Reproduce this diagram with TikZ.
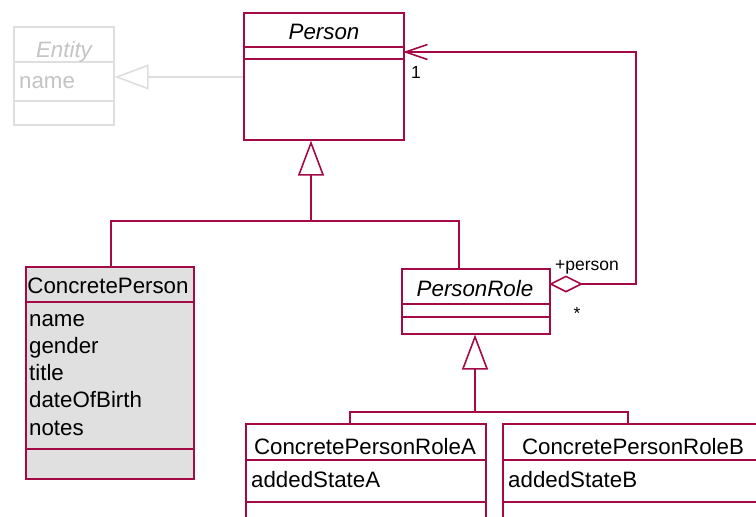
\documentclass[tikz,border=0pt]{standalone}
\usepackage{fontspec}
\setmainfont{Liberation Sans}
\usetikzlibrary{arrows.meta}
\definecolor{uml}{RGB}{163,10,70}
\definecolor{ghost}{RGB}{222,222,222}
\definecolor{ghosttext}{RGB}{196,196,196}
\definecolor{cpfill}{RGB}{224,224,224}
\begin{document}
\begin{tikzpicture}[x=1pt,y=-1pt,
  cls/.style={draw=uml, line width=1.6pt, rectangle, inner sep=0pt, anchor=north west},
  ghostcls/.style={draw=ghost, line width=1.6pt, rectangle, inner sep=0pt, anchor=north west},
  umlline/.style={draw=uml, line width=1.6pt},
  ghostline/.style={draw=ghost, line width=1.6pt},
  lbl/.style={font=\fontsize{22.3}{26}\selectfont, inner sep=0pt, text=black},
  ilbl/.style={lbl, font=\fontsize{22.3}{26}\selectfont\itshape},
  small/.style={font=\fontsize{17.5}{20}\selectfont, inner sep=0pt, text=black},
  gen/.style={-{Triangle[open, length=35pt, width=26pt, line width=1.6pt]}},
  ghostgen/.style={-{Triangle[open, length=34pt, width=25pt, line width=1.6pt]}},
  assoc/.style={{Diamond[open, length=34pt, width=17pt, line width=1.6pt]}-{Straight Barb[length=22pt, width=15pt, line width=1.6pt]}}
]
\useasboundingbox (0,0) rectangle (756,517);
\clip (0,0) rectangle (756,517);

% Entity (ghost)
\node[ghostcls, minimum width=100pt, minimum height=98pt] (entity) at (13,26) {};
\draw[ghostline] (13,62) -- (113,62);
\draw[ghostline] (13,101) -- (113,101);
\node[ilbl, anchor=base, text=ghosttext] (entityT) at (64,57) {Entity};
\node[lbl, anchor=base west, text=ghosttext] (entityA) at (19,88) {name};

% Person
\node[cls, minimum width=160pt, minimum height=127pt] (person) at (243,12) {};
\draw[umlline] (243,47) -- (403,47);
\draw[umlline] (243,59) -- (403,59);
\node[ilbl, anchor=base] (personT) at (324,39) {Person};

% ConcretePerson
\node[cls, fill=cpfill, minimum width=168pt, minimum height=212pt] (cp) at (25,266) {};
\draw[umlline] (25,302) -- (193,302);
\draw[umlline] (25,449) -- (193,449);
\node[lbl, anchor=base] (cpT) at (108,293) {ConcretePerson};
\node[lbl, anchor=base west] (cpA1) at (29,326) {name};
\node[lbl, anchor=base west] (cpA2) at (29,353) {gender};
\node[lbl, anchor=base west] (cpA3) at (29,380) {title};
\node[lbl, anchor=base west] (cpA4) at (29,407) {dateOfBirth};
\node[lbl, anchor=base west] (cpA5) at (29,435) {notes};

% PersonRole
\node[cls, minimum width=148pt, minimum height=65pt] (pr) at (401,268) {};
\draw[umlline] (401,304) -- (549,304);
\draw[umlline] (401,317) -- (549,317);
\node[ilbl, anchor=base] (prT) at (475,296) {PersonRole};

% ConcretePersonRoleA
\node[cls, minimum width=240pt, minimum height=120pt] (cpra) at (245,423) {};
\draw[umlline] (245,460) -- (485,460);
\draw[umlline] (245,502) -- (485,502);
\node[lbl, anchor=base] (cpraT) at (365,454) {ConcretePersonRoleA};
\node[lbl, anchor=base west] (cpraA) at (251,487) {addedStateA};

% ConcretePersonRoleB
\node[cls, minimum width=262pt, minimum height=120pt] (cprb) at (502,423) {};
\draw[umlline] (502,460) -- (764,460);
\draw[umlline] (502,502) -- (764,502);
\node[lbl, anchor=base] (cprbT) at (633,454) {ConcretePersonRoleB};
\node[lbl, anchor=base west] (cprbA) at (508,487) {addedStateB};

% Entity generalization
\coordinate (pe) at (243,77);
\draw[ghostline, ghostgen] (pe) -- (entity.east |- pe);

% Person generalization
\coordinate (cpTop) at (111,266);
\coordinate (prTop) at (459,268);
\coordinate (pJoin) at (311,221);
\draw[umlline] (cpTop) -- (cpTop |- pJoin) -- (prTop |- pJoin) -- (prTop);
\draw[umlline, gen] (pJoin) -- (pJoin |- person.south);

% PersonRole generalization
\coordinate (craTop) at (350,423);
\coordinate (crbTop) at (628,423);
\coordinate (rJoin) at (475,412);
\draw[umlline] (craTop) -- (craTop |- rJoin) -- (crbTop |- rJoin) -- (crbTop);
\draw[umlline, gen] (rJoin) -- (rJoin |- pr.south);

% Association
\coordinate (diaStart) at (549,284);
\coordinate (turn) at (636,284);
\coordinate (pTarget) at (403,52);
\draw[umlline, assoc] (diaStart) -- (turn) -- (turn |- pTarget) -- (pTarget);
\node[small, anchor=base west] (mult1) at (411,78) {1};
\node[small, anchor=base] (role) at (587,270) {+person};
\node[small, anchor=base] (multS) at (577,319) {*};
\end{tikzpicture}
\end{document}
